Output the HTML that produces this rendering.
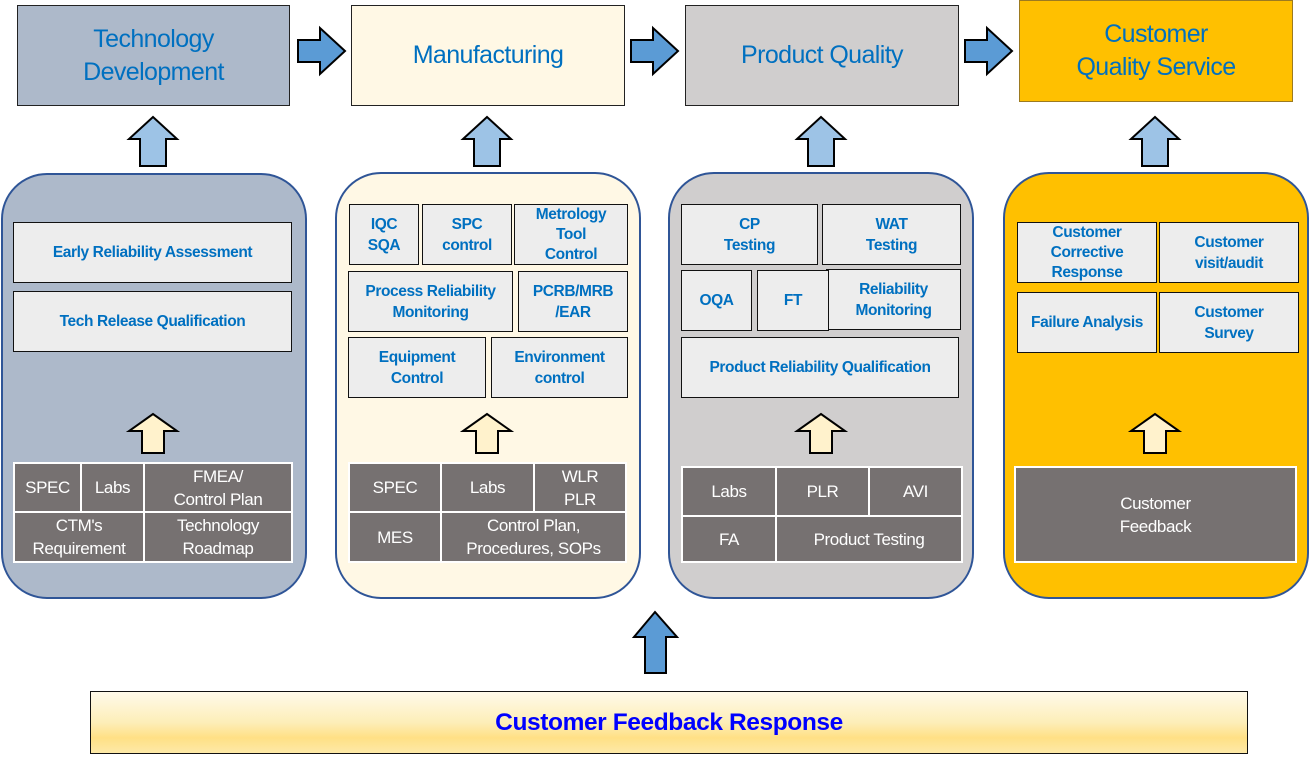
<!DOCTYPE html>
<html><head><meta charset="utf-8"><style>
body{margin:0;width:1310px;height:758px;background:#fff;position:relative;overflow:hidden;font-family:"Liberation Sans",sans-serif;}
.b{position:absolute;box-sizing:border-box;display:flex;align-items:center;justify-content:center;text-align:center;}
.h{border:1px solid #222;color:#0070c0;font-size:25px;line-height:33px;letter-spacing:-0.6px;}
.p{border:2px solid #2f5597;border-radius:46px;}
.i{background:#ededed;border:1.5px solid #111;color:#0070c0;font-size:15.5px;font-weight:bold;line-height:21px;letter-spacing:-0.4px;}
.g{background:#767171;border:2px solid #fff;color:#fff;font-size:17px;line-height:23px;letter-spacing:-0.4px;}
svg{position:absolute;left:0;top:0;}
</style></head><body>
<div class="b h" style="left:17px;top:5px;width:273px;height:101px;background:#adb9ca;">Technology<br>Development</div>
<div class="b h" style="left:351px;top:5px;width:274px;height:101px;background:#fff8e5;">Manufacturing</div>
<div class="b h" style="left:685px;top:5px;width:274px;height:101px;background:#d0cece;">Product Quality</div>
<div class="b h" style="left:1019px;top:0px;width:274px;height:102px;background:#ffc000;border-color:#9c7a20;">Customer<br>Quality Service</div>

<div class="b p" style="left:1px;top:173px;width:306px;height:426px;background:#adb9ca;"></div>
<div class="b p" style="left:335px;top:172px;width:306px;height:427px;background:#fff8e5;"></div>
<div class="b p" style="left:668px;top:172px;width:306px;height:427px;background:#d0cece;"></div>
<div class="b p" style="left:1003px;top:172px;width:306px;height:427px;background:#ffc000;"></div>

<!-- panel 1 -->
<div class="b i" style="left:13px;top:222px;width:279px;height:61px;">Early Reliability Assessment</div>
<div class="b i" style="left:13px;top:291px;width:279px;height:61px;">Tech Release Qualification</div>
<div class="b g" style="left:13px;top:462px;width:69px;height:51px;">SPEC</div>
<div class="b g" style="left:80px;top:462px;width:65px;height:51px;">Labs</div>
<div class="b g" style="left:143px;top:462px;width:150px;height:51px;">FMEA/<br>Control Plan</div>
<div class="b g" style="left:13px;top:511px;width:132px;height:52px;">CTM's<br>Requirement</div>
<div class="b g" style="left:143px;top:511px;width:150px;height:52px;">Technology<br>Roadmap</div>

<!-- panel 2 -->
<div class="b i" style="left:349px;top:204px;width:70px;height:61px;">IQC<br>SQA</div>
<div class="b i" style="left:422px;top:204px;width:90px;height:61px;">SPC<br>control</div>
<div class="b i" style="left:514px;top:204px;width:114px;height:61px;line-height:20px;">Metrology<br>Tool<br>Control</div>
<div class="b i" style="left:348px;top:271px;width:165px;height:61px;">Process Reliability<br>Monitoring</div>
<div class="b i" style="left:518px;top:271px;width:110px;height:61px;">PCRB/MRB<br>/EAR</div>
<div class="b i" style="left:348px;top:337px;width:138px;height:61px;">Equipment<br>Control</div>
<div class="b i" style="left:491px;top:337px;width:137px;height:61px;">Environment<br>control</div>
<div class="b g" style="left:348px;top:462px;width:94px;height:51px;">SPEC</div>
<div class="b g" style="left:440px;top:462px;width:95px;height:51px;">Labs</div>
<div class="b g" style="left:533px;top:462px;width:94px;height:51px;">WLR<br>PLR</div>
<div class="b g" style="left:348px;top:511px;width:94px;height:52px;">MES</div>
<div class="b g" style="left:440px;top:511px;width:187px;height:52px;">Control Plan,<br>Procedures, SOPs</div>

<!-- panel 3 -->
<div class="b i" style="left:681px;top:204px;width:137px;height:61px;">CP<br>Testing</div>
<div class="b i" style="left:822px;top:204px;width:139px;height:61px;">WAT<br>Testing</div>
<div class="b i" style="left:681px;top:270px;width:71px;height:61px;">OQA</div>
<div class="b i" style="left:826px;top:269px;width:135px;height:61px;">Reliability<br>Monitoring</div>
<div class="b i" style="left:757px;top:270px;width:72px;height:61px;">FT</div>
<div class="b i" style="left:681px;top:337px;width:278px;height:61px;">Product Reliability Qualification</div>
<div class="b g" style="left:681px;top:466px;width:96px;height:51px;">Labs</div>
<div class="b g" style="left:775px;top:466px;width:95px;height:51px;">PLR</div>
<div class="b g" style="left:868px;top:466px;width:95px;height:51px;">AVI</div>
<div class="b g" style="left:681px;top:515px;width:96px;height:48px;">FA</div>
<div class="b g" style="left:775px;top:515px;width:188px;height:48px;">Product Testing</div>

<!-- panel 4 -->
<div class="b i" style="left:1017px;top:222px;width:140px;height:61px;line-height:20px;">Customer<br>Corrective<br>Response</div>
<div class="b i" style="left:1159px;top:222px;width:140px;height:61px;">Customer<br>visit/audit</div>
<div class="b i" style="left:1017px;top:292px;width:140px;height:61px;">Failure Analysis</div>
<div class="b i" style="left:1159px;top:292px;width:140px;height:61px;">Customer<br>Survey</div>
<div class="b g" style="left:1014px;top:466px;width:283px;height:97px;">Customer<br>Feedback</div>

<div class="b" style="left:90px;top:691px;width:1158px;height:63px;border:1.5px solid #111;background:linear-gradient(#fffaea 0%,#fdeeb8 50%,#ffe085 75%,#fde9a8 100%);color:#0000ff;font-weight:bold;font-size:24.5px;letter-spacing:-0.4px;">Customer Feedback Response</div>

<svg width="1310" height="758">
<g fill="#5b9bd5" stroke="#000" stroke-width="2" stroke-linejoin="miter">
<polygon points="298,40 320,40 320,28 345,51 320,74 320,62 298,62"/>
<polygon points="631,40 653,40 653,28 678,51 653,74 653,62 631,62"/>
<polygon points="965,40 987,40 987,28 1012,51 987,74 987,62 965,62"/>
<polygon points="645,673 645,637 634,637 655,612 677,637 666,637 666,673"/>
</g>
<g fill="#9dc3e6" stroke="#000" stroke-width="2">
<polygon points="140,166 140,139 129,139 153,117 177,139 166,139 166,166"/>
<polygon points="474,166 474,139 463,139 487,117 511,139 500,139 500,166"/>
<polygon points="808,166 808,139 797,139 821,117 845,139 834,139 834,166"/>
<polygon points="1142,166 1142,139 1131,139 1155,117 1179,139 1168,139 1168,166"/>
</g>
<g fill="#fff2cc" stroke="#000" stroke-width="2">
<polygon points="142,453 142,431 129,431 153,414 177,431 164,431 164,453"/>
<polygon points="476,453 476,431 463,431 487,414 511,431 498,431 498,453"/>
<polygon points="810,453 810,431 797,431 821,414 845,431 832,431 832,453"/>
<polygon points="1144,453 1144,431 1131,431 1155,414 1179,431 1166,431 1166,453"/>
</g>
</svg>
</body></html>
